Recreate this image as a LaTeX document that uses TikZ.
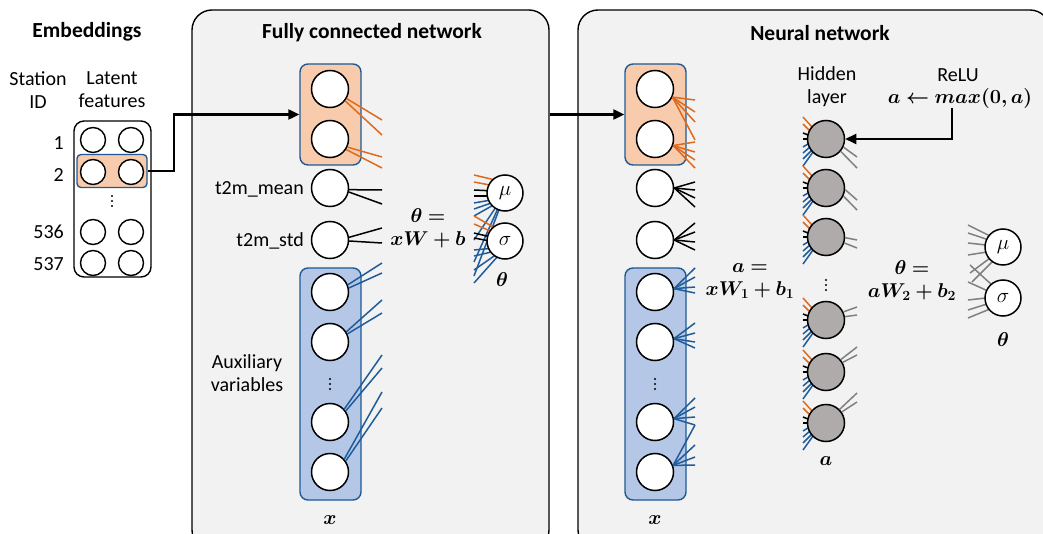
\RequirePackage{fix-cm}
\documentclass[tikz,border=0pt]{standalone}
\usepackage{amsmath,bm}
\usepackage{fontspec}
\setmainfont{Carlito}
\usetikzlibrary{arrows.meta,calc}
\definecolor{panelgray}{HTML}{F2F2F2}
\definecolor{ofill}{HTML}{F8CBAD}
\definecolor{bfill}{HTML}{B4C7E7}
\definecolor{bborder}{HTML}{1F5A96}
\definecolor{oline}{HTML}{DD6A1F}
\definecolor{bline}{HTML}{1F5C99}
\definecolor{hidgray}{HTML}{AFABAB}
\definecolor{gline}{HTML}{808080}
\newcommand{\vdotsat}[1]{\foreach \k in {-5,0,5}{\fill ($(#1)+(0,\k)$) circle (1.1pt);}}
\begin{document}
\begin{tikzpicture}[x=1pt,y=-1pt,
  neuron/.style={circle,draw,line width=1.5pt,fill=white,minimum size=37pt,inner sep=0pt,font=\fontsize{21}{21}\selectfont},
  eneuron/.style={circle,draw,line width=1.4pt,fill=white,minimum size=25pt,inner sep=0pt},
  hid/.style={neuron,fill=hidgray},
  panel/.style={draw,line width=1.4pt,fill=panelgray,rounded corners=20pt,inner sep=0pt},
  obox/.style={draw=bborder,line width=1.4pt,fill=ofill,rounded corners=8pt,inner sep=0pt},
  bbox/.style={draw=bborder,line width=1.4pt,fill=bfill,rounded corners=8pt,inner sep=0pt},
  lbl/.style={font=\fontsize{20}{23}\selectfont,align=center,inner sep=0pt},
  ttl/.style={font=\fontsize{21.5}{24}\selectfont\bfseries,inner sep=0pt},
  mth/.style={font=\fontsize{20}{24}\selectfont,align=center,inner sep=0pt},
  arr/.style={line width=2.2pt,-{Triangle[length=11pt,width=10pt]}},
  os/.style={oline,line width=1.5pt},
  bs/.style={bline,line width=1.5pt},
  ks/.style={black,line width=1.5pt},
  gs/.style={gline,line width=1.5pt}
]
\useasboundingbox (0,0) rectangle (1043,534);
\fill[white] (0,0) rectangle (1043,534);
\begin{scope}
\clip (0,0) rectangle (1043,534);
\node[panel,minimum width=357pt,minimum height=540pt] (pL) at (370.5,280) {};
\node[panel,minimum width=472pt,minimum height=540pt] (pR) at (814,280) {};
\end{scope}

% ---------- Embeddings ----------
\node[ttl] (tE) at (87,32) {Embeddings};
\node[lbl] (tS) at (38,90) {Station\\ID};
\node[lbl] (tL) at (112,90) {Latent\\features};
\node[draw,line width=1.4pt,rounded corners=10pt,minimum width=77pt,minimum height=156pt,inner sep=0pt,fill=white] (emb) at (112.5,199) {};
\node[draw=bborder,line width=1.4pt,fill=ofill,rounded corners=4pt,minimum width=70pt,minimum height=33pt,inner sep=0pt] (hl) at (112,171) {};
\foreach \r/\yy in {1/140,2/172,3/232,4/263}{
  \node[eneuron] (e\r a) at (93,\yy) {};
  \node[eneuron] (e\r b) at (131,\yy) {};
}
\node[lbl,anchor=east] (n1) at (64,143) {1};
\node[lbl,anchor=east] (n2) at (64,175) {2};
\node[lbl,anchor=east] (n3) at (64,232) {536};
\node[lbl,anchor=east] (n4) at (64,264) {537};
\coordinate (ed) at (112,201);
\vdotsat{ed}

% ---------- Left panel ----------
\node[ttl] (tF) at (372,33) {Fully connected network};
\node[obox,minimum width=61pt,minimum height=101pt] (ob1) at (330.5,114.5) {};
\node[bbox,minimum width=61pt,minimum height=232pt] (bb1) at (330.5,384) {};
\node[neuron] (la1) at (330,89) {};
\node[neuron] (la2) at (330,139) {};
\node[neuron] (lm) at (330,188) {};
\node[neuron] (ls) at (330,240) {};
\node[neuron] (lx1) at (330,292) {};
\node[neuron] (lx2) at (330,342) {};
\node[neuron] (lx3) at (330,422) {};
\node[neuron] (lx4) at (330,472) {};
\coordinate (ld) at (330,384);
\vdotsat{ld}
\node[lbl,anchor=east] (tm) at (304,189) {t2m\_mean};
\node[lbl,anchor=east] (ts) at (304,241) {t2m\_std};
\node[lbl] (ta) at (247,373) {Auxiliary\\variables};
\node[mth] (lxl) at (330,520) {$\bm{x}$};
\node[mth] (lf) at (428,228) {$\bm{\theta =}$\\[-1pt]$\bm{xW + b}$};

% input stubs left
\draw[os] (la1.-30) -- (382,120);
\draw[os] (la1.-38) -- (382,135);
\draw[os] (la2.-25) -- (382,157);
\draw[os] (la2.-33) -- (382,168);
\draw[ks] (lm.-5) -- (382,190);
\draw[ks] (lm.-12) -- (382,204);
\draw[ks] (ls.8) -- (382,228);
\draw[ks] (ls.-3) -- (382,243);
\draw[bs] (lx1.22) -- (382,263);
\draw[bs] (lx1.12) -- (382,273);
\draw[bs] (lx2.32) -- (382,300);
\draw[bs] (lx2.25) -- (382,313);
\draw[bs] (lx3.42) -- (382,355);
\draw[bs] (lx3.35) -- (382,368);
\draw[bs] (lx4.42) -- (382,392);
\draw[bs] (lx4.35) -- (382,408);

% outputs left
\draw[os] (474,175) -- (495,180);
\draw[os] (474,182) -- (495,186);
\draw[ks] (474,190) -- (495,191);
\draw[ks] (474,196) -- (495,196);
\draw[bs] (474,203) -- (497,199);
\draw[bs] (474,209) -- (497,201);
\draw[bs] (474,216) -- (497,203);
\draw[bs] (474,240) -- (498,204);
\draw[bs] (474,262) -- (499,206);
\draw[bs] (474,276) -- (500,207);
\draw[os] (474,216) -- (495,228);
\draw[os] (474,224) -- (495,233);
\draw[ks] (474,233) -- (495,238);
\draw[ks] (474,238) -- (495,242);
\draw[bs] (474,250) -- (495,248);
\draw[bs] (474,256) -- (496,251);
\draw[bs] (474,270) -- (497,254);
\draw[bs] (474,283) -- (498,256);
\node[neuron,minimum size=36pt] (lmu) at (505,193) {$\mu$};
\node[neuron,minimum size=36pt] (lsg) at (505,241) {$\sigma$};
\node[mth] (lth) at (502,280) {$\bm{\theta}$};

% arrow embeddings -> FC
\draw[arr] (hl.east) -- ++(26,0) |- (ob1.west);

% ---------- Right panel ----------
\node[ttl] (tN) at (820,33) {Neural network};
\node[obox,minimum width=61pt,minimum height=101pt] (ob2) at (655.5,114.5) {};
\node[bbox,minimum width=61pt,minimum height=232pt] (bb2) at (655.5,384) {};
\node[neuron] (ra1) at (655,89) {};
\node[neuron] (ra2) at (655,139) {};
\node[neuron] (rm) at (655,188) {};
\node[neuron] (rs) at (655,240) {};
\node[neuron] (rx1) at (655,292) {};
\node[neuron] (rx2) at (655,342) {};
\node[neuron] (rx3) at (655,422) {};
\node[neuron] (rx4) at (655,472) {};
\coordinate (rd) at (655,384);
\vdotsat{rd}
\node[mth] (rxl) at (655,520) {$\bm{x}$};
\draw[arr] (ob2.west -| pL.east) -- (ob2.west);

% input stubs right
\foreach \n/\c/\a/\ys in {ra1/os/-25/{100,112,122,140},ra2/os/-20/{142,152,160,168},rm/ks/0/{182,190,198,207},rs/ks/0/{223,232,242,250},rx1/bs/10/{268,277,287,293},rx2/bs/10/{323,333,342,348},rx3/bs/10/{398,407,417,425},rx4/bs/20/{425,445,457,465}}{
  \foreach \yy in \ys {
    \draw[\c] (\n.\a) -- (695,\yy);
  }
}

\node[mth] (rf1) at (750,281) {$\bm{a =}$\\[-1pt]$\bm{xW_1 + b_1}$};
\node[lbl] (thl) at (827,87) {Hidden\\layer};
\node[lbl] (trl) at (958,75) {ReLU};
\node[mth,anchor=north] (rfr) at (960,88) {$\bm{a \leftarrow max(0,a)}$};

\foreach \i/\yy in {1/139,2/188,3/237,4/320,5/372,6/423}{
  \draw[os] (803,\yy-22) -- (812,\yy-12);
  \draw[os] (803,\yy-15) -- (810,\yy-8);
  \draw[ks] (803,\yy-6) -- (808,\yy-4);
  \draw[ks] (803,\yy) -- (808,\yy);
  \draw[bs] (803,\yy+8) -- (808,\yy+5);
  \draw[bs] (803,\yy+14) -- (810,\yy+8);
  \draw[bs] (803,\yy+20) -- (812,\yy+11);
  \draw[bs] (803,\yy+27) -- (813,\yy+13);
  \node[hid] (h\i) at (826,\yy) {};
}
\coordinate (hd) at (826,285);
\vdotsat{hd}
\node[mth] (hal) at (826,461) {$\bm{a}$};
\draw[gs] (h1.-25) -- (857,157);
\draw[gs] (h1.-40) -- (857,168);
\draw[gs] (h2.-5) -- (857,200);
\draw[gs] (h2.-25) -- (857,210);
\draw[gs] (h3.-2) -- (857,240);
\draw[gs] (h3.-18) -- (857,248);
\draw[gs] (h4.25) -- (857,307);
\draw[gs] (h4.10) -- (857,315);
\draw[gs] (h5.40) -- (857,347);
\draw[gs] (h5.30) -- (857,355);
\draw[gs] (h6.45) -- (857,393);
\draw[gs] (h6.35) -- (857,402);

\draw[arr] ([xshift=-8pt]rfr.south) |- (h1.east);

\node[mth] (rf2) at (912,281) {$\bm{\theta =}$\\[-1pt]$\bm{aW_2 + b_2}$};
\draw[gs] (968,225) -- (990,236);
\draw[gs] (968,233) -- (989,240);
\draw[gs] (968,243) -- (986,245);
\draw[gs] (968,255) -- (987,252);
\draw[gs] (970,273) -- (990,258);
\draw[gs] (972,282) -- (993,261);
\draw[gs] (970,265) -- (992,285);
\draw[gs] (968,282) -- (988,291);
\draw[gs] (968,300) -- (986,298);
\draw[gs] (968,310) -- (987,304);
\draw[gs] (968,318) -- (990,309);
\node[neuron,minimum size=36pt] (rmu) at (1003,247) {$\mu$};
\node[neuron,minimum size=36pt] (rsg) at (1003,298) {$\sigma$};
\node[mth] (rth) at (1003,340) {$\bm{\theta}$};
\end{tikzpicture}
\end{document}
